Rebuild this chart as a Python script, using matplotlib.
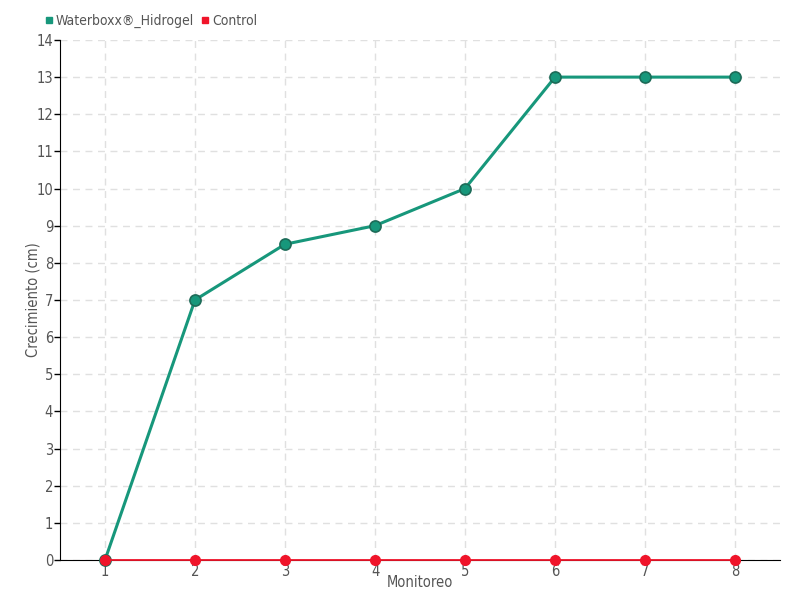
import matplotlib
matplotlib.use('Agg')
import matplotlib.pyplot as plt
from matplotlib.lines import Line2D

monitoreo = [1, 2, 3, 4, 5, 6, 7, 8]
waterboxx = [0, 7, 8.5, 9, 10, 13, 13, 13]
control = [0, 0, 0, 0, 0, 0, 0, 0]

GREEN = '#17977b'
GREEN_EDGE = '#1d6b58'
RED = '#f0142a'
TXT = '#555555'

plt.rcParams['font.family'] = ['DejaVu Sans']
plt.rcParams['font.stretch'] = 'condensed'

fig = plt.figure(figsize=(8, 6), dpi=100)
ax = fig.add_axes([0.075, 0.0667, 0.9, 0.8667])

ax.plot(monitoreo, waterboxx, color=GREEN, lw=2.2, marker='o', ms=8,
        markerfacecolor=GREEN, markeredgecolor=GREEN_EDGE, markeredgewidth=1.2,
        zorder=3, clip_on=False)
ax.plot(monitoreo, control, color=RED, lw=1.3, marker='o', ms=7,
        markerfacecolor=RED, markeredgecolor=RED, zorder=4, clip_on=False)

ax.set_xlim(0.5, 8.5)
ax.set_ylim(0, 14)
ax.set_xticks(monitoreo)
ax.set_yticks(range(0, 15))
ax.tick_params(axis='y', direction='out', length=4, width=1, colors='black',
               labelcolor=TXT, labelsize=10.5, pad=1)
ax.tick_params(axis='x', length=0, labelcolor=TXT, labelsize=10.5, pad=3)

ax.grid(True, color='#e0e0e0', linestyle=(0, (5, 4)), lw=1)
ax.set_axisbelow(True)
for s in ['top', 'right']:
    ax.spines[s].set_visible(False)
ax.spines['left'].set_color('black')
ax.spines['bottom'].set_color('black')

ax.set_xlabel('Monitoreo', color=TXT, fontsize=10.5)
ax.set_ylabel('Crecimiento (cm)', color=TXT, fontsize=10.5)
ax.yaxis.set_label_coords(-0.027, 0.5)
ax.xaxis.set_label_coords(0.5, -0.028)

handles = [Line2D([], [], ls='none', marker='s', ms=5, color=GREEN),
           Line2D([], [], ls='none', marker='s', ms=5, color=RED)]
fig.legend(handles, ['Waterboxx®_Hidrogel', 'Control'], loc='upper left',
           bbox_to_anchor=(0.037, 0.998), ncol=2, frameon=False, fontsize=10,
           handletextpad=0.0, columnspacing=0.3, handlelength=1.0,
           labelcolor=TXT)

fig.savefig('out.png', dpi=100)
